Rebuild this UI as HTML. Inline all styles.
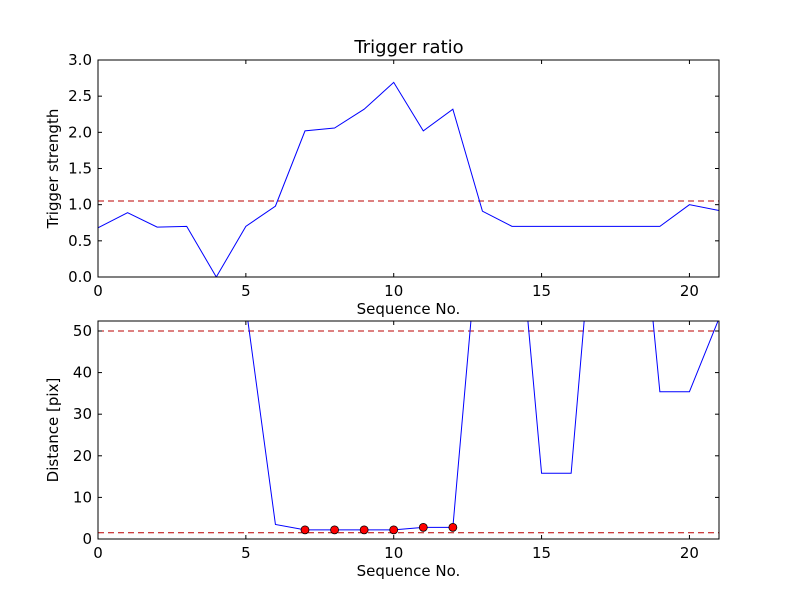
<!DOCTYPE html>
<html><head><meta charset="utf-8"><style>
body{margin:0;background:#fff;}
svg text{font-family:"DejaVu Sans","Liberation Sans",sans-serif;fill:#000;}
</style></head><body>
<svg id="fig" width="800" height="600" viewBox="0 0 800 600">
<rect width="800" height="600" fill="#fff"/>
<defs>
<clipPath id="c1"><rect x="98" y="60" width="621" height="217"/></clipPath>
<clipPath id="c2"><rect x="98" y="321" width="621" height="218"/></clipPath>
</defs>
<text x="409" y="53" font-size="18" text-anchor="middle">Trigger ratio</text>
<g id="top"></g>
<g id="bot"></g>
</svg>
<script>
const seq = [0,1,2,3,4,5,6,7,8,9,10,11,12,13,14,15,16,17,18,19,20,21];
const triggerStrength = [0.68,0.89,0.69,0.70,0.0,0.70,0.98,2.02,2.06,2.32,2.69,2.02,2.32,0.91,0.70,0.70,0.70,0.70,0.70,0.70,1.00,0.92];
const triggerThreshold = [1.05];
const distance = [null,null,null,null,null,56,3.5,2.2,2.2,2.2,2.2,2.8,2.8,84,95,15.8,15.8,99,109,35.4,35.4,53];
const markerSeq = [7,8,9,10,11,12];
const markerDist = [2.2,2.2,2.2,2.2,2.8,2.8];
const distThresholds = [50,1.5];
const xTicks = [0,5,10,15,20];
const yTicksTop = ["0.0","0.5","1.0","1.5","2.0","2.5","3.0"];
const yTicksBot = [0,10,20,30,40,50];

const NS="http://www.w3.org/2000/svg";
function mk(parent,tag,attrs){const e=document.createElementNS(NS,tag);for(const k in attrs)e.setAttribute(k,attrs[k]);parent.appendChild(e);return e;}
function axes(g,box,xmax,ymin,ymax,yticks,ylabel){
  const sx=v=>box.x+(v/xmax)*box.w;
  const sy=v=>box.y+box.h-((v-ymin)/(ymax-ymin))*box.h;
  return {sx,sy,finish:()=>{
    const fr=mk(g,'rect',{x:box.x,y:box.y,width:box.w,height:box.h,fill:'none',stroke:'#000','stroke-width':1});
    
    
    xTicks.forEach(t=>{const X=sx(t);
      mk(g,'line',{x1:X,x2:X,y1:box.y+box.h,y2:box.y+box.h-4,stroke:'#000'});
      mk(g,'line',{x1:X,x2:X,y1:box.y,y2:box.y+4,stroke:'#000'});
      const tx=mk(g,'text',{x:X,y:box.y+box.h+19,'font-size':15,'text-anchor':'middle'});tx.textContent=t;
      
      
    });
    yticks.forEach(t=>{const Y=sy(parseFloat(t));
      mk(g,'line',{x1:box.x,x2:box.x+4,y1:Y,y2:Y,stroke:'#000'});
      mk(g,'line',{x1:box.x+box.w,x2:box.x+box.w-4,y1:Y,y2:Y,stroke:'#000'});
      const tx=mk(g,'text',{x:box.x-6,y:Y+5,'font-size':15,'text-anchor':'end'});tx.textContent=t;
      
      
    });
    const xl=mk(g,'text',{x:box.x+box.w/2,y:box.y+box.h+37,'font-size':15,'text-anchor':'middle'});xl.textContent='Sequence No.';
    
    
    const cy=box.y+box.h/2;
    const yl=mk(g,'text',{x:box.x-40,y:cy,'font-size':15,'text-anchor':'middle',transform:`rotate(-90 ${box.x-40} ${cy})`});yl.textContent=ylabel;
    
    
  }};
}
const gt=document.getElementById('top');
const A=axes(gt,{x:98,y:60,w:621,h:217},21,0,3,yTicksTop,'Trigger strength');
triggerThreshold.forEach(v=>{const l=mk(gt,'line',{x1:98,x2:719,y1:A.sy(v),y2:A.sy(v),stroke:'#b00','stroke-dasharray':'6,4'});
  
  });
const p1=mk(gt,'polyline',{points:seq.map((s,i)=>A.sx(s)+','+A.sy(triggerStrength[i])).join(' '),fill:'none',stroke:'#00f','stroke-width':1,'clip-path':'url(#c1)'});


A.finish();
const gb=document.getElementById('bot');
const B=axes(gb,{x:98,y:321,w:621,h:218},21,0,52.4,yTicksBot.map(String),'Distance [pix]');
distThresholds.forEach(v=>{const l=mk(gb,'line',{x1:98,x2:719,y1:B.sy(v),y2:B.sy(v),stroke:'#b00','stroke-dasharray':'6,4'});
  
  });
const pts=[];seq.forEach((s,i)=>{if(distance[i]!==null)pts.push(B.sx(s)+','+B.sy(distance[i]));});
const p2=mk(gb,'polyline',{points:pts.join(' '),fill:'none',stroke:'#00f','stroke-width':1,'clip-path':'url(#c2)'});


markerSeq.forEach((s,i)=>{const c=mk(gb,'circle',{cx:B.sx(s),cy:B.sy(markerDist[i]),r:4,fill:'#f00',stroke:'#000','stroke-width':0.8});
  
  });
B.finish();
</script>
</body></html>
